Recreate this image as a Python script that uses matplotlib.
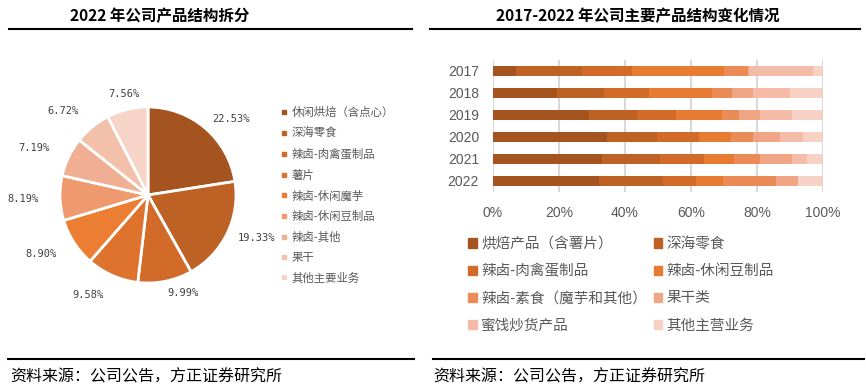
import matplotlib
matplotlib.use('Agg')
import numpy as np
import matplotlib.pyplot as plt
from matplotlib.patches import Patch
from matplotlib.lines import Line2D

plt.rcParams['font.family'] = ['Noto Sans CJK SC', 'DejaVu Sans']

# ---- data: 2022 product split (pie) ----
pie_labels = ['休闲烘焙（含点心）', '深海零食', '辣卤-肉禽蛋制品', '薯片', '辣卤-休闲魔芋',
              '辣卤-休闲豆制品', '辣卤-其他', '果干', '其他主要业务']
pie_values = [22.53, 19.33, 9.99, 9.58, 8.90, 8.19, 7.19, 6.72, 7.56]
pie_colors = ['#A5541F', '#BE6125', '#D26B2A', '#DE732E', '#EC7E33',
              '#EE9A6E', '#F0AE93', '#F3C0AC', '#F7D4C8']

# ---- data: 2017-2022 structure (stacked bars, %) ----
years = ['2017', '2018', '2019', '2020', '2021', '2022']
bar_cats = ['烘焙产品（含薯片）', '深海零食', '辣卤-肉禽蛋制品', '辣卤-休闲豆制品',
            '辣卤-素食（魔芋和其他）', '果干类', '蜜饯炒货产品', '其他主营业务']
bake = [7.0, 19.4, 29.1, 34.5, 32.9, 32.1]
deepsea = [20.0, 14.2, 14.4, 15.1, 17.8, 19.3]
meat = [15.1, 13.6, 12.1, 12.7, 13.2, 10.0]
bean = [28.0, 19.2, 13.8, 9.8, 9.1, 8.2]
veg = [7.3, 6.0, 5.1, 6.8, 7.9, 16.1]
dried = [0.3, 6.4, 6.3, 8.1, 9.7, 6.7]
candied = [19.4, 11.2, 9.7, 6.9, 4.7, 0.0]
other = [3.0, 10.1, 9.5, 6.2, 4.7, 7.6]
bar_colors = ['#A5541F', '#BE6125', '#D26B2A', '#E67B31', '#EB8B57', '#F0A585', '#F4BBA6', '#F7D1C4']

W, H = 866, 391
fig = plt.figure(figsize=(W / 100, H / 100), dpi=100)


def fx(px):
    return px / W


def fy(py):
    return 1 - py / H


# titles, rules and source lines
fig.text(fx(160), fy(16), '2022 年公司产品结构拆分', fontsize=11.2, fontweight='bold',
         ha='center', va='center', color='black')
fig.text(fx(638), fy(16), '2017-2022 年公司主要产品结构变化情况', fontsize=11.2, fontweight='bold',
         ha='center', va='center', color='black')
for x0, x1 in [(9, 412), (430, 860)]:
    fig.add_artist(Line2D([fx(x0), fx(x1)], [fy(29), fy(29)], color='black', lw=1.5))
for x0, x1 in [(8, 414), (433, 864)]:
    fig.add_artist(Line2D([fx(x0), fx(x1)], [fy(359), fy(359)], color='black', lw=1.5))
for x0 in [10, 433]:
    fig.text(fx(x0), fy(377), '资料来源：公司公告，方正证券研究所', fontsize=11.5, style='italic',
             ha='left', va='center', color='black')

# ---- pie ----
cx, cy, r = 148, 195, 88
ax1 = fig.add_axes([fx(cx - r), fy(cy + r), 2 * r / W, 2 * r / H])
wedges, texts = ax1.pie(pie_values, colors=pie_colors, startangle=90, counterclock=False,
                        labels=[f'{v:.2f}%' for v in pie_values], labeldistance=1.2,
                        wedgeprops=dict(edgecolor='white', linewidth=2),
                        textprops=dict(fontsize=7.5, color='#404040', family='DejaVu Sans Mono'))
for w, t in zip(wedges, texts):
    ang = np.deg2rad((w.theta1 + w.theta2) / 2)
    c, s = np.cos(ang), np.sin(ang)
    if c > 0.15:
        d, ha = 1.13, 'left'
    elif c < -0.25:
        d, ha = 1.24, 'right'
    else:
        d, ha = 1.18, 'center'
    t.set_position((d * c, d * s))
    t.set_ha(ha)
    t.set_va('center')
ax1.set_xlim(-1, 1)
ax1.set_ylim(-1, 1)
ax1.axis('off')

pie_handles = [Line2D([], [], marker='s', ms=2.8, ls='none', color=c) for c in pie_colors]
fig.legend(pie_handles, pie_labels, loc='upper left', bbox_to_anchor=(fx(281), fy(107)),
           frameon=False, fontsize=8.2, labelcolor='#595959', handlelength=0.6,
           handletextpad=0.35, labelspacing=0.84, borderpad=0, borderaxespad=0)

# ---- stacked bars ----
ax2 = fig.add_axes([fx(493), fy(192), 330 / W, 132 / H])
series = [bake, deepsea, meat, bean, veg, dried, candied, other]
left = [0.0] * len(years)
bar_handles = []
for vals, col, name in zip(series, bar_colors, bar_cats):
    ax2.barh(years, vals, left=left, height=0.42, color=col, zorder=2)
    left = [a + b for a, b in zip(left, vals)]
    bar_handles.append(Patch(color=col))
ax2.set_xlim(0, 100)
ax2.set_ylim(5.5, -0.5)
ax2.set_xticks([0, 20, 40, 60, 80, 100])
ax2.set_xticklabels([f'{v}%' for v in [0, 20, 40, 60, 80, 100]])
ax2.grid(axis='x', color='#D9D9D9', lw=1.5, zorder=0)
for s in ax2.spines.values():
    s.set_visible(False)
ax2.tick_params(length=0, labelsize=10, labelcolor='#595959', pad=10)
for lab in ax2.get_xticklabels() + ax2.get_yticklabels():
    lab.set_family('Liberation Sans')

# legend filled column-first, so reorder to read row by row
order = [0, 2, 4, 6, 1, 3, 5, 7]
fig.legend([bar_handles[i] for i in order], [bar_cats[i] for i in order], ncol=2,
           loc='upper left', bbox_to_anchor=(fx(468), fy(237)), frameon=False,
           fontsize=10.5, labelcolor='#595959', handlelength=0.6, handleheight=0.6,
           handletextpad=0.3, labelspacing=0.9, columnspacing=0.45, borderpad=0, borderaxespad=0)

fig.savefig('out.png', dpi=100, facecolor='white')
